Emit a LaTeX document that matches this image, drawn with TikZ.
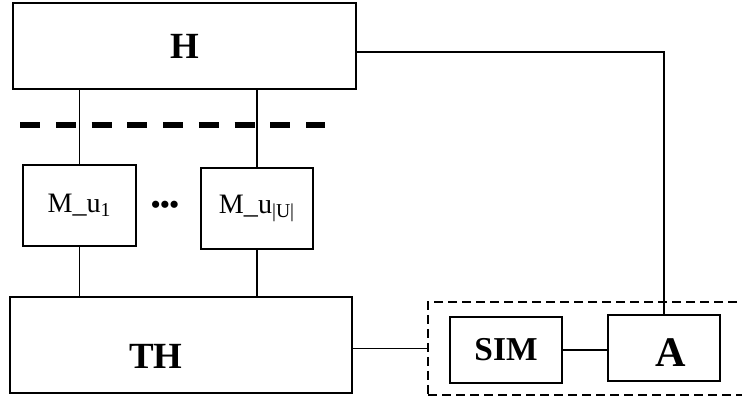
\documentclass[tikz,border=0pt]{standalone}
\usepackage{fontspec}
\setmainfont{Liberation Serif}
\usepackage{tikz}
\usetikzlibrary{calc}
\tikzset{
	%Define style for boxes
	blokk/.style={
		rectangle,
		draw=black, line width=1pt,
		inner sep=0pt},
	% style for the dashed group frame
	ramme/.style={
		rectangle,
		draw=black, line width=0.8pt,
		dash pattern=on 0.18cm off 0.1cm,
		inner sep=0pt},
	% Define style for plain connectors
	forb/.style={
		line width=1pt}
}

\begin{document}
\begin{tikzpicture}
	\useasboundingbox (0,0) rectangle (14.84,7.94);
	\clip (0,0) rectangle (14.84,7.94);
	% node H
	\node[blokk, minimum width=6.86cm, minimum height=1.72cm, font=\fontsize{21}{25}\selectfont\bfseries] (h) at (3.69,7.02) {H};
	% separator
	\draw[line width=3.4pt, dash pattern=on 0.4cm off 0.315cm] (0.4,5.44) -- (6.5,5.44);
	% nodes M_u
	\node[blokk, minimum width=2.26cm, minimum height=1.62cm, font=\fontsize{16}{18}\selectfont] (mfirst) at (1.59,3.83) {M\_u\textsubscript{1}};
	\node[blokk, minimum width=2.24cm, minimum height=1.62cm, font=\fontsize{16}{18}\selectfont] (mlast) at (5.14,3.77) {M\_u\textsubscript{|U|}};
	\node[font=\fontsize{15}{18}\selectfont\bfseries] (dots) at (3.3,3.8) {•••};
	% node TH
	\node[blokk, minimum width=6.84cm, minimum height=1.92cm,
		label={[font=\fontsize{21}{25}\selectfont\bfseries, xshift=-0.5cm, yshift=-0.22cm]center:TH}] (th) at (3.62,1.04) {};
	% group frame with SIM and A
	\node[ramme, minimum width=6.64cm, minimum height=1.86cm] (grp) at (11.88,0.97) {};
	\node[blokk, minimum width=2.24cm, minimum height=1.32cm, font=\fontsize{19}{22}\selectfont\bfseries] (sim) at (10.12,0.94) {SIM};
	\node[blokk, minimum width=2.24cm, minimum height=1.32cm,
		label={[font=\fontsize{24}{28}\selectfont\bfseries, xshift=0.14cm, yshift=-0.1cm]center:A}] (a) at (13.28,0.98) {};
	% connectors
	\draw[forb] (mfirst.north) -- (mfirst.north |- h.south);
	\draw[forb] (mlast.north) -- (mlast.north |- h.south);
	\draw[forb] (mfirst.south) -- (mfirst.south |- th.north);
	\draw[forb] (mlast.south) -- (mlast.south |- th.north);
	\draw[forb] ([yshift=-0.12cm]h.east) -| (a.north);
	\draw[forb] (grp.west -| th.east) -- (grp.west);
	\draw[forb] (sim.east) -- (sim.east -| a.west);
\end{tikzpicture}
\end{document}
